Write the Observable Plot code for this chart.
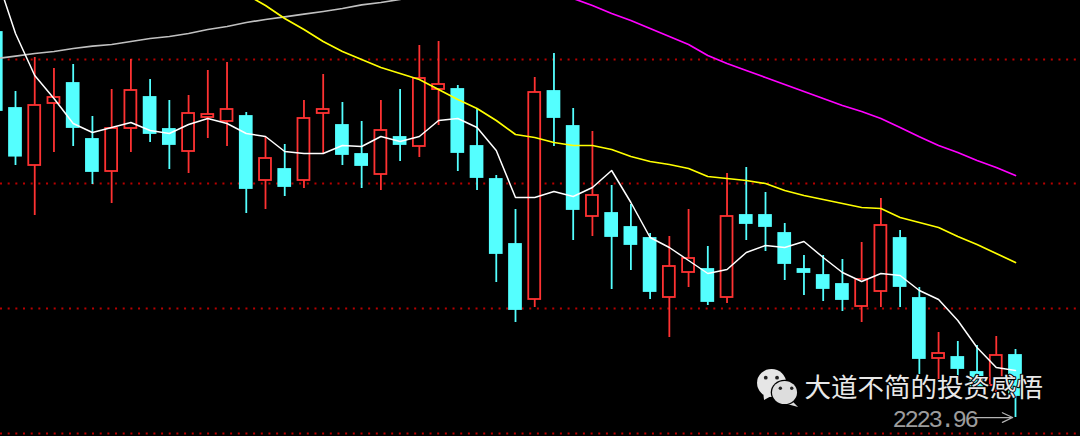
<!DOCTYPE html>
<html>
<head>
<meta charset="utf-8">
<script src="https://cdn.jsdelivr.net/npm/d3@7"></script>
<script src="https://cdn.jsdelivr.net/npm/@observablehq/plot@0.6"></script>
<style>
html,body{margin:0;padding:0;background:#000;overflow:hidden}
svg{display:block}
.lastlabel text{letter-spacing:-2.4px}
</style>
</head>
<body>
<div id="chart"></div>
<script>
const opens = [2801.5,2687.5,2602,2695,2725,2641,2593,2657.5,2704,2656,2623,2674,2668,2675.5,2579.5,2596,2579.5,2680,2662,2618.5,2588.5,2644,2630.5,2716,2716,2630.5,2581,2483.5,2401,2713,2660.5,2525.5,2530,2509,2492.5,2404,2441.5,2446,2404,2527,2527,2500,2446,2437,2423.5,2390.5,2413,2492.5,2402.5,2312.5,2314,2291.5,2272,2317];
const closes = [2684.5,2616,2692,2704,2659,2593,2657.5,2714.5,2650,2633.5,2680,2678.5,2686,2567.5,2612.5,2570.5,2672.5,2686,2618.5,2602,2654.5,2633.5,2732.5,2723.5,2621.5,2584,2470,2386,2711.5,2674,2536,2557,2495.5,2483.5,2413,2450.5,2462.5,2398,2525.5,2515,2510.5,2455,2441.5,2417.5,2401,2431,2512,2420.5,2312.5,2320,2297.5,2270.5,2317,2257];
const highs = [2812,2713,2764,2747.5,2753.5,2675.5,2716,2761,2731,2699.5,2707,2744.5,2756.5,2681.5,2644,2633.5,2699.5,2738.5,2696.5,2668,2699.5,2716,2782,2788,2722,2687.5,2587,2536,2734,2770,2687.5,2653,2572,2543.5,2500,2495.5,2536,2480.5,2590,2599,2561.5,2515,2467,2467,2461,2486.5,2552.5,2504.5,2419,2351.5,2338,2332,2345.5,2326];
const lows = [2669.5,2602,2527,2621.5,2630.5,2573.5,2545,2621.5,2636.5,2596,2590,2642.5,2630.5,2530,2536,2555.5,2567.5,2620,2602,2567.5,2564.5,2608,2614,2662,2593,2564.5,2426.5,2366.5,2389,2630.5,2489.5,2495.5,2416,2444.5,2401,2344,2419,2392,2395,2489.5,2473,2429.5,2407,2398,2383,2366.5,2389,2389,2288.5,2279.5,2279.5,2261.5,2261.5,2223.96];

const maWhite = [2887,2800,2737,2702.5,2665,2651.5,2659,2666.5,2654.5,2650,2663.5,2672.5,2665,2650,2645.5,2623,2620,2620,2632,2630.5,2645.5,2638,2645.5,2669.5,2672.5,2659,2624.5,2554,2554,2563,2555.5,2569,2594.5,2546.5,2494,2479,2459.5,2440,2446,2471.5,2482,2479,2488,2464,2441.5,2428,2440,2437,2414.5,2401,2369.5,2329,2299,2294.5];
const maGrey = [2762.5,2766,2770,2773,2777.5,2781,2783.5,2788,2792.5,2795.5,2800,2806,2810.5,2816.5,2821,2825,2829,2833,2837.5,2843,2846.5,2851];
const maYellow = [2858.5,2842,2822.5,2806,2788,2773,2761,2749,2740,2731,2716,2701,2687.5,2669.5,2648.5,2644,2636.5,2632,2632,2626,2615.5,2608,2603.5,2597.5,2585.5,2582.5,2579.5,2575,2564.5,2557,2551,2545,2539,2537.5,2524,2516.5,2509,2495.5,2483.5,2470,2456.5];
const yellowStart = 13;
const maMagenta = [2863,2852.5,2842,2830,2819.5,2807.5,2795.5,2783.5,2767,2755,2744.5,2734,2723.5,2713,2702.5,2692,2683,2672.5,2659,2645,2632,2621.5,2609.5,2599,2587];
const magentaStart = 29;
const gridPrices = [2200,2387.5,2575,2761];
const lastLow = 2223.96;
const lastLabel = "2223.96";
const watermark = "大道不简的投资感悟";

const RED = "#ff3232", CYAN = "#54ffff";
const candles = opens.map((o,i)=>({i,open:o,close:closes[i],high:highs[i],low:lows[i],up:closes[i]>=o}));
const seq = (arr,start=0)=>arr.map((v,k)=>({i:k+start,v}));

function wechatIcon(index, scales, values, dims){
  const ns="http://www.w3.org/2000/svg";
  const g=document.createElementNS(ns,"g");
  const mk=(tag,a)=>{const e=document.createElementNS(ns,tag);for(const k in a)e.setAttribute(k,a[k]);g.appendChild(e);return e;};
  const X=scales.x(41.25), Y=scales.y(2275);
  g.setAttribute("transform",`translate(${X},${Y})`);
  const light="#e6e6e6", dark="#000";
  mk("path",{d:"M-26,8 L-25,17 L-16,12 Z",fill:light});
  mk("ellipse",{cx:-17.5,cy:0,rx:14.5,ry:14,fill:light});
  mk("circle",{cx:-23.3,cy:-5.3,r:1.9,fill:"#222"});
  mk("circle",{cx:-12,cy:-5.3,r:1.9,fill:"#222"});
  mk("path",{d:"M3,18 L9,24 L-2,21 Z",fill:"#ddd"});
  mk("ellipse",{cx:-4.5,cy:9.5,rx:13.8,ry:12.8,fill:dark});
  mk("ellipse",{cx:-4.5,cy:9.5,rx:12.5,ry:11.5,fill:"#ddd"});
  mk("circle",{cx:-8.7,cy:5.3,r:1.7,fill:"#222"});
  mk("circle",{cx:2.7,cy:5.3,r:1.7,fill:"#222"});
  return g;
}

const chart = Plot.plot({
  width:1080, height:436,
  marginTop:0, marginRight:0, marginBottom:0, marginLeft:0,
  style:{background:"#000"},
  x:{domain:[0.22,56.38], range:[0,1080], axis:null},
  y:{domain:[2195.5,2849.5], range:[436,0], axis:null},
  marks:[
    Plot.ruleY(gridPrices,{stroke:"#b80000",strokeWidth:2,strokeDasharray:"2,5.67"}),
    Plot.ruleX(candles,{x:"i",y1:"low",y2:"high",stroke:d=>d.up?RED:CYAN,strokeWidth:1.8}),
    Plot.rect(candles,{
      x1:d=>d.i-0.31, x2:d=>d.i+0.31,
      y1:"open", y2:"close",
      fill:d=>d.up?"#000":CYAN,
      stroke:d=>d.up?RED:CYAN,
      strokeWidth:1.8
    }),
    Plot.line(seq(maGrey),{x:"i",y:"v",stroke:"#c0c0c0",strokeWidth:1.7}),
    Plot.line(seq(maMagenta,magentaStart),{x:"i",y:"v",stroke:"#ff00ff",strokeWidth:1.7}),
    Plot.line(seq(maYellow,yellowStart),{x:"i",y:"v",stroke:"#ffff00",strokeWidth:1.7}),
    Plot.line(seq(maWhite),{x:"i",y:"v",stroke:"#ffffff",strokeWidth:1.5}),
    Plot.arrow([{a:lastLow}],{x1:()=>50.92,x2:()=>52.85,y1:"a",y2:"a",stroke:"#b4b4b4",strokeWidth:1.3,headLength:13,headAngle:50,bend:0}),
    Plot.text([lastLabel],{className:"lastlabel",x:()=>46.6,y:()=>lastLow-3,text:d=>d,textAnchor:"start",fill:"#9c9c9c",fontSize:24,fontFamily:"'Liberation Mono',monospace"}),
    wechatIcon,
    Plot.text([watermark],{x:()=>42.03,y:()=>2267,text:d=>d,textAnchor:"start",fill:"#e8e8e8",fontSize:26.5,fontFamily:"'Noto Sans CJK SC',sans-serif",stroke:"#000",strokeWidth:2,paintOrder:"stroke"})
  ]
});
document.getElementById("chart").appendChild(chart);
</script>
</body>
</html>
